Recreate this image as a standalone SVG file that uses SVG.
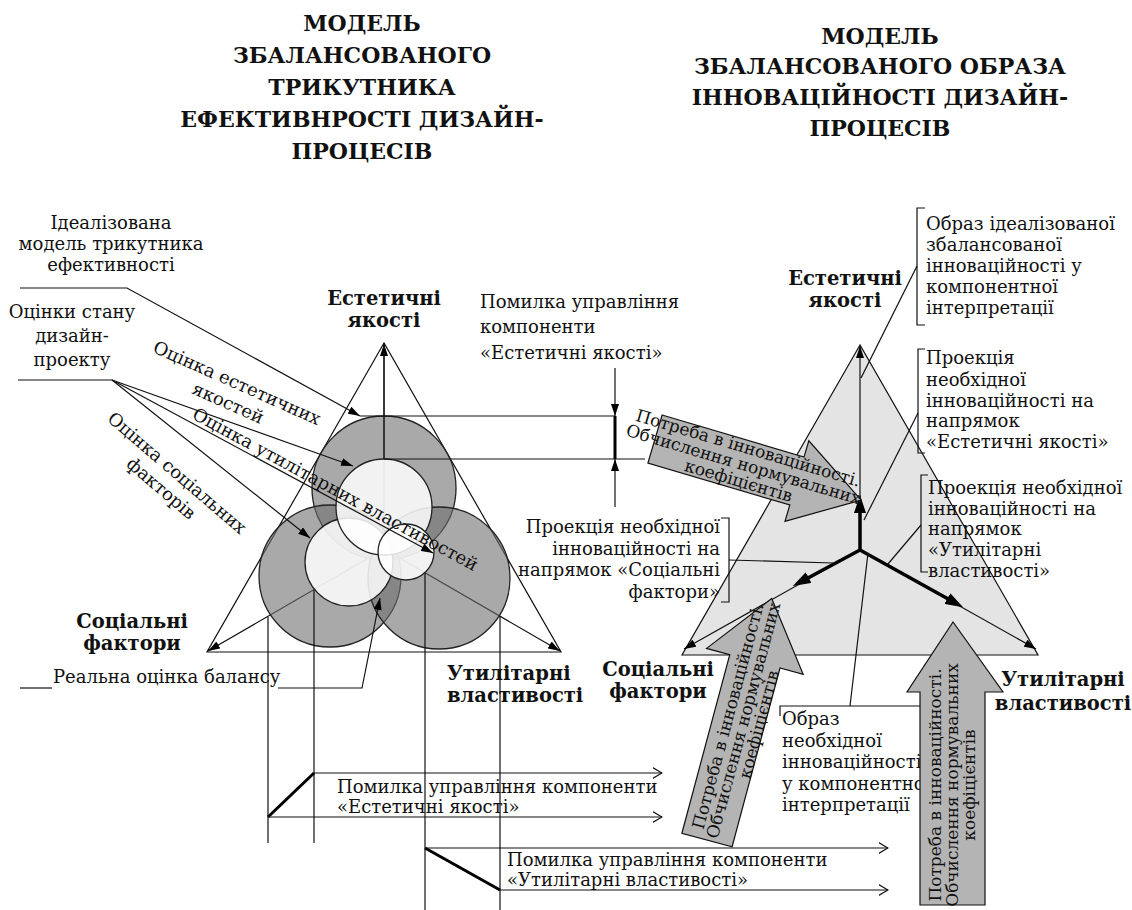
<svg xmlns="http://www.w3.org/2000/svg" width="1132" height="910" viewBox="0 0 1132 910" font-family="'DejaVu Serif', serif">
<style>
text{font-family:'DejaVu Serif',serif;fill:#111}
.t{font-size:22px;font-weight:bold;text-anchor:middle}
.b{font-size:19.5px;font-weight:bold}
.m{text-anchor:middle}
.e{text-anchor:end}
.r{font-size:18px}
.a{font-size:17px}
.ln{stroke:#111;stroke-width:1.2;fill:none}
.tk{stroke:#000;stroke-width:3.5;fill:none}
.big{fill:#707070;fill-opacity:.6;stroke:#222;stroke-width:1.3}
.inn{fill:#fff;fill-opacity:.85;stroke:#222;stroke-width:1.3}
.blk{fill:#b4b4b4;stroke:#111;stroke-width:1.2}
</style>
<defs>
<marker id="ah" viewBox="0 0 12 8" refX="12" refY="4" markerWidth="12" markerHeight="8" markerUnits="userSpaceOnUse" orient="auto"><path d="M0,0L12,4L0,8z" fill="#000"/></marker>
<marker id="ahb" viewBox="0 0 18 12" refX="3" refY="6" markerWidth="18" markerHeight="12" markerUnits="userSpaceOnUse" orient="auto"><path d="M0,0L18,6L0,12z" fill="#000"/></marker>
<marker id="oa" viewBox="0 0 10 12" refX="9.5" refY="6" markerWidth="10" markerHeight="12" markerUnits="userSpaceOnUse" orient="auto"><path d="M0,0.5L9.5,6L0,11.5" fill="none" stroke="#111" stroke-width="1.2"/></marker>
</defs>
<rect width="1132" height="910" fill="#fff"/>

<g id="title-left">
<text class="t" x="362" y="31">МОДЕЛЬ</text>
<text class="t" x="362" y="63">ЗБАЛАНСОВАНОГО</text>
<text class="t" x="362" y="95">ТРИКУТНИКА</text>
<text class="t" x="362" y="127">ЕФЕКТИВНРОСТІ ДИЗАЙН-</text>
<text class="t" x="362" y="159">ПРОЦЕСІВ</text>
</g>
<g id="title-right">
<text class="t" x="880" y="44">МОДЕЛЬ</text>
<text class="t" x="880" y="74">ЗБАЛАНСОВАНОГО ОБРАЗА</text>
<text class="t" x="880" y="105">ІННОВАЦІЙНОСТІ ДИЗАЙН-</text>
<text class="t" x="880" y="136">ПРОЦЕСІВ</text>
</g>

<g id="left-triangle">
<polygon class="ln" points="384,343 207,652 561,652"/>
<line class="ln" x1="384" y1="549" x2="384" y2="344" marker-end="url(#ah)"/>
<line class="ln" x1="384" y1="549" x2="208" y2="651" marker-end="url(#ah)"/>
<line class="ln" x1="384" y1="549" x2="560" y2="651" marker-end="url(#ah)"/>
<circle class="big" cx="384" cy="488" r="72"/>
<circle class="big" cx="330" cy="576" r="71"/>
<circle class="big" cx="439" cy="578" r="71"/>
<circle class="inn" cx="349" cy="562" r="44"/>
<circle class="inn" cx="384" cy="507" r="48"/>
<circle class="inn" cx="406" cy="552" r="28"/>
<line class="ln" x1="384" y1="343" x2="384" y2="459"/>
</g>

<g id="left-labels">
<text class="r m" x="111" y="229">Ідеалізована</text>
<text class="r m" x="111" y="250">модель трикутника</text>
<text class="r m" x="111" y="271">ефективності</text>
<text class="r m" x="72" y="318">Оцінки стану</text>
<text class="r m" x="72" y="342">дизайн-</text>
<text class="r m" x="72" y="366">проекту</text>
<g transform="translate(237,383) rotate(24)">
<text class="r m" x="0" y="6">Оцінка естетичних</text>
<text class="r m" x="0" y="28">якостей</text>
</g>
<g transform="translate(177,473) rotate(40.6)">
<text class="r m" x="0" y="6">Оцінка соціальних</text>
<text class="r m" x="-2" y="28">факторів</text>
</g>
<g transform="translate(113,379) rotate(28.5)">
<text class="r m" x="248" y="-3">Оцінка утилітарних властивостей</text>
</g>
<text class="r" x="53" y="683">Реальна оцінка балансу</text>
<text class="b m" x="384" y="305">Естетичні</text>
<text class="b m" x="384" y="327">якості</text>
<text class="b m" x="132" y="628">Соціальні</text>
<text class="b m" x="132" y="650">фактори</text>
<text class="b" x="447" y="680">Утилітарні</text>
<text class="b" x="447" y="702">властивості</text>
<text class="r" x="480" y="308">Помилка управління</text>
<text class="r" x="480" y="333">компоненти</text>
<text class="r" x="480" y="359">«Естетичні якості»</text>
</g>

<g id="right-triangle">
<polygon points="860,345 682,655 1038,655" fill="#e4e4e4" stroke="#111" stroke-width="1.2"/>
<line class="ln" x1="860" y1="550" x2="860" y2="346" marker-end="url(#ah)"/>
<line class="ln" x1="860" y1="550" x2="684" y2="649" marker-end="url(#ah)"/>
<line class="ln" x1="860" y1="550" x2="1036" y2="649" marker-end="url(#ah)"/>
<line class="tk" x1="860" y1="550" x2="860" y2="510" marker-end="url(#ahb)"/>
<line class="tk" x1="860" y1="550" x2="806" y2="579" marker-end="url(#ahb)"/>
<line class="tk" x1="860" y1="550" x2="950" y2="600" marker-end="url(#ahb)"/>
</g>

<g id="right-labels">
<text class="b m" x="845" y="285">Естетичні</text>
<text class="b m" x="845" y="307">якості</text>
<text class="b m" x="658" y="676">Соціальні</text>
<text class="b m" x="658" y="698">фактори</text>
<text class="b m" x="1063" y="686">Утилітарні</text>
<text class="b m" x="1063" y="710">властивості</text>
<path class="ln" d="M925,208H917V325H925"/>
<text class="r" x="926" y="230">Образ ідеалізованої</text>
<text class="r" x="926" y="251">збалансованої</text>
<text class="r" x="926" y="272">інноваційності у</text>
<text class="r" x="926" y="293">компонентної</text>
<text class="r" x="926" y="314">інтерпретації</text>
<path class="ln" d="M925,349H918V453H925"/>
<text class="r" x="926" y="364">Проекція</text>
<text class="r" x="926" y="386">необхідної</text>
<text class="r" x="926" y="407">інноваційності на</text>
<text class="r" x="926" y="427">напрямок</text>
<text class="r" x="926" y="448">«Естетичні якості»</text>
<path class="ln" d="M928,475H921V572H928"/>
<text class="r" x="928" y="494">Проекція необхідної</text>
<text class="r" x="928" y="515">інноваційності на</text>
<text class="r" x="928" y="535">напрямок</text>
<text class="r" x="928" y="556">«Утилітарні</text>
<text class="r" x="928" y="577">властивості»</text>
<path class="ln" d="M721,518H729V602H721"/>
<text class="r e" x="720" y="533">Проекція необхідної</text>
<text class="r e" x="720" y="555">інноваційності на</text>
<text class="r e" x="720" y="576">напрямок «Соціальні</text>
<text class="r e" x="720" y="598">фактори»</text>
<path class="ln" d="M780,716V706H927V716"/>
<text class="r" x="782" y="725">Образ</text>
<text class="r" x="782" y="747">необхідної</text>
<text class="r" x="782" y="768">інноваційності</text>
<text class="r" x="782" y="790">у компонентної</text>
<text class="r" x="782" y="811">інтерпретації</text>
</g>

<g id="block-arrow-1" transform="translate(655,439) rotate(16.5)">
<polygon class="blk" points="0,-25 148,-25 148,-42 215,0 148,42 148,25 0,25"/>
<text class="a m" x="92" y="-12">Потреба в інноваційності.</text>
<text class="a m" x="92" y="5">Обчислення нормувальних</text>
<text class="a m" x="92" y="22">коефіцієнтів</text>
</g>
<g id="block-arrow-2" transform="translate(707,840) rotate(-75)">
<polygon class="blk" points="0,-26 185,-26 185,-50 250,0 185,50 185,26 0,26"/>
<text class="a m" x="125" y="-6">Потреба в інноваційності.</text>
<text class="a m" x="125" y="10">Обчислення нормувальних</text>
<text class="a m" x="125" y="26">коефіцієнтів</text>
</g>
<g id="block-arrow-3">
<polygon class="blk" points="920,905 985,905 985,692 1003,692 953,622 907,692 920,692"/>
<g transform="translate(953,785) rotate(-90)">
<text class="a m" x="0" y="-12">Потреба в інноваційності.</text>
<text class="a m" x="0" y="5">Обчислення нормувальних</text>
<text class="a m" x="0" y="22">коефіцієнтів</text>
</g>
</g>

<g id="bottom-labels">
<text class="r" x="337" y="793">Помилка управління компоненти</text>
<text class="r" x="337" y="813">«Естетичні якості»</text>
<text class="r" x="507" y="866">Помилка управління компоненти</text>
<text class="r" x="507" y="886">«Утилітарні властивості»</text>
</g>

<g id="connectors">
<path class="ln" d="M20,288H127L360,416" marker-end="url(#ah)"/>
<path class="ln" d="M18,380H112"/>
<line class="ln" x1="112" y1="380" x2="353" y2="466" marker-end="url(#ah)"/>
<line class="ln" x1="112" y1="380" x2="433" y2="553" marker-end="url(#ah)"/>
<line class="ln" x1="112" y1="380" x2="310" y2="538" marker-end="url(#ah)"/>
<path class="ln" d="M20,688H52"/>
<path class="ln" d="M278,688H362L380,598" marker-end="url(#ah)"/>
<line class="ln" x1="360" y1="416" x2="615" y2="416"/>
<line class="ln" x1="384" y1="459" x2="645" y2="459"/>
<line class="ln" x1="615" y1="368" x2="615" y2="507"/>
<line x1="615" y1="416" x2="615" y2="459" stroke="#000" stroke-width="3"/>
<polygon points="611,404 619,404 615,416" fill="#000"/>
<polygon points="611,471 619,471 615,459" fill="#000"/>
<line class="ln" x1="268" y1="617" x2="268" y2="843"/>
<line class="ln" x1="314" y1="590" x2="314" y2="843"/>
<line class="ln" x1="425" y1="573" x2="425" y2="910"/>
<line class="ln" x1="500" y1="616" x2="500" y2="910"/>
<line x1="268" y1="817" x2="314" y2="773" stroke="#000" stroke-width="3"/>
<line class="ln" x1="314" y1="773" x2="662" y2="773" marker-end="url(#oa)"/>
<line class="ln" x1="268" y1="817" x2="662" y2="817" marker-end="url(#oa)"/>
<line x1="425" y1="848" x2="500" y2="890" stroke="#000" stroke-width="3"/>
<line class="ln" x1="425" y1="848" x2="888" y2="848" marker-end="url(#oa)"/>
<line class="ln" x1="500" y1="890" x2="888" y2="890" marker-end="url(#oa)"/>
<line class="ln" x1="917" y1="266" x2="861" y2="378"/>
<line class="ln" x1="918" y1="413" x2="864" y2="520"/>
<line class="ln" x1="921" y1="525" x2="888" y2="564"/>
<line class="ln" x1="729" y1="560" x2="833" y2="563"/>
<line class="ln" x1="850" y1="706" x2="868" y2="553"/>
</g>
</svg>
